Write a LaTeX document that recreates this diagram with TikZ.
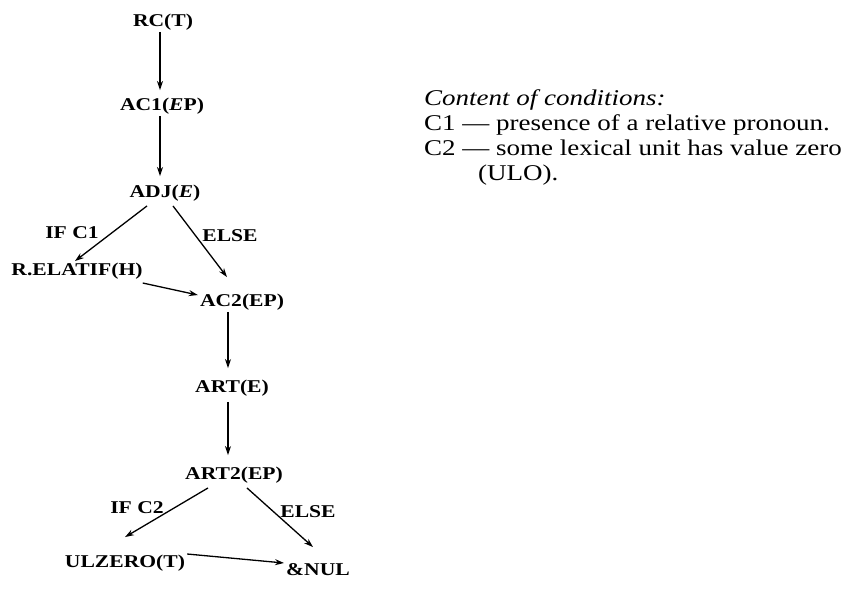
\documentclass[tikz,border=0pt]{standalone}
\usepackage{fontspec}
\setmainfont{Liberation Serif}
\newfontfamily\wideserif{Liberation Serif}[FakeStretch=1.2]
\usetikzlibrary{arrows.meta,calc}
\begin{document}
\begin{tikzpicture}[x=1pt,y=-1pt,
  state/.style={font=\wideserif\fontsize{18}{20}\selectfont\bfseries, inner sep=2pt,
    text height=12pt, text depth=3.5pt},
  cond/.style={font=\wideserif\fontsize{18}{20}\selectfont\bfseries, inner sep=0pt},
  flow/.style={line width=1.3pt, -{Stealth[length=9pt,width=6pt]}},
  legend/.style={font=\wideserif\fontsize{22.5}{25}\selectfont, anchor=base west, inner sep=0pt}]
\useasboundingbox (0,0) rectangle (842,595);

% states of the rule
\node[state] (rc)   at (163,22)  {RC(T)};
\node[state] (ac1)  at (162,106) {AC1(\textit{E}P)};
\node[state] (adj)  at (165,193) {ADJ(\textit{E})};
\node[state] (rel)  at (77,271)  {R.ELATIF(H)};
\node[state] (ac2)  at (242,302) {AC2(EP)};
\node[state] (art)  at (232,388) {ART(E)};
\node[state] (art2) at (234,475) {ART2(EP)};
\node[state] (ulz)  at (125,563) {ULZERO(T)};
\node[state] (nul)  at (318,571) {\&NUL};

% branch conditions
\node[cond] (if1)  at (72,233)  {IF C1};
\node[cond] (els1) at (230,236) {ELSE};
\node[cond] (if2)  at (137,508) {IF C2};
\node[cond] (els2) at (308,512) {ELSE};

% transitions (shifts are in canvas pt: positive yshift moves up)
\draw[flow] ([xshift=-3pt]rc.south) -- ([xshift=-2pt,yshift=6pt]ac1.north);
\draw[flow] ([xshift=-2pt]ac1.south) -- ([xshift=-5pt,yshift=7pt]adj.north);
\draw[flow] ([xshift=-18pt,yshift=-3pt]adj.south) -- ([xshift=-2pt]rel.north);
\draw[flow] ([xshift=8pt,yshift=-3pt]adj.south) -- ([xshift=-15pt,yshift=15pt]ac2.north);
\draw[flow] ([xshift=-2pt,yshift=-12pt]rel.east) -- ([yshift=7pt]ac2.west);
\draw[flow] ([xshift=-14pt]ac2.south) -- ([xshift=-4pt,yshift=10pt]art.north);
\draw[flow] ([xshift=-4pt,yshift=-4pt]art.south) -- ([xshift=-6pt,yshift=10pt]art2.north);
\draw[flow] ([xshift=-26pt,yshift=-3pt]art2.south) -- ([yshift=16pt]ulz.north);
\draw[flow] ([xshift=13pt,yshift=-3pt]art2.south) -- ([xshift=-5pt,yshift=14pt]nul.north);
\draw[flow] ([yshift=9pt]ulz.east) -- ([yshift=8pt]nul.west);

% legend
\node[legend] (lh) at (424,105) {\textit{Content of conditions:}};
\node[legend] (l1) at (424,130) {C1 — presence of a relative pronoun.};
\node[legend] (l2) at (424,155) {C2 — some lexical unit has value zero};
\node[legend] (l3) at (478,180) {(ULO).};
\end{tikzpicture}
\end{document}
